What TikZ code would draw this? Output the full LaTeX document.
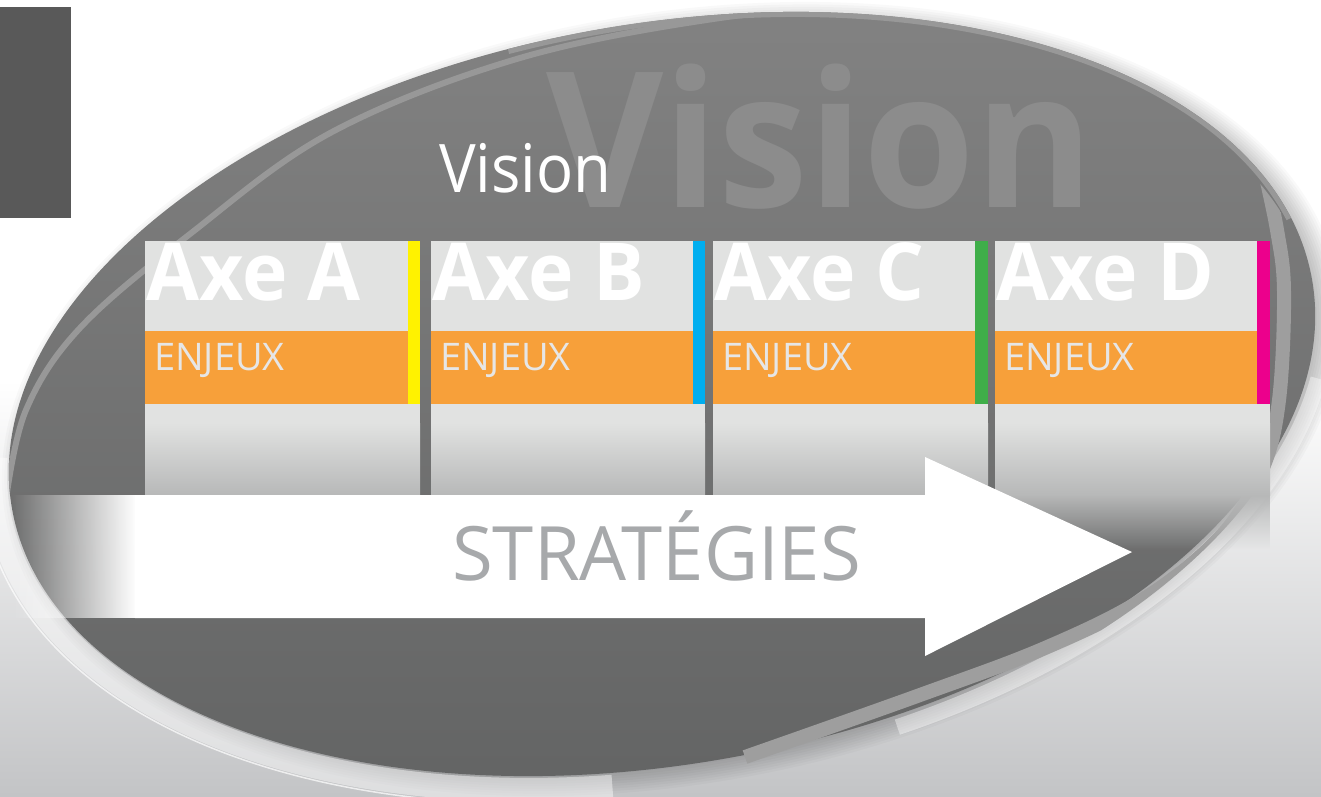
\documentclass[tikz,border=0pt]{standalone}
\usepackage{fontspec}
\setmainfont{Open Sans}
\usetikzlibrary{fadings}
\tikzfading[name=fadein, left color=transparent!100, right color=transparent!0]
\tikzfading[name=fadeout, top color=transparent!0, bottom color=transparent!100]
\definecolor{bgbot}{HTML}{C3C4C6}
\definecolor{ellTop}{HTML}{818181}
\definecolor{ellMid}{HTML}{7B7B7B}
\definecolor{ellBot}{HTML}{626363}
\definecolor{rimlight}{HTML}{989898}
\definecolor{rimband}{HTML}{9E9E9E}
\definecolor{darkbox}{HTML}{595959}
\definecolor{wmgray}{HTML}{8C8C8C}
\definecolor{panelgray}{HTML}{E1E2E1}
\definecolor{panellow}{HTML}{B7B8B8}
\definecolor{enjorange}{HTML}{F7A03A}
\definecolor{enjtext}{HTML}{E6E6E6}
\definecolor{stratgray}{HTML}{A7A9AB}
\definecolor{barA}{HTML}{FFF200}
\definecolor{barB}{HTML}{00AEEF}
\definecolor{barC}{HTML}{3FAE49}
\definecolor{barD}{HTML}{EC008C}
\tikzset{
  ellframe/.style={shift={(662,394)}, rotate=10},
  axetext/.style={anchor=base west, inner sep=0, text=white, xscale=0.96, font=\bfseries\fontsize{80}{80}\selectfont},
  enjtextstyle/.style={anchor=base west, inner sep=0, text=enjtext, font=\fontsize{38}{38}\selectfont},
}
\begin{document}
\begin{tikzpicture}[x=1pt,y=-1pt]
\useasboundingbox (0,0) rectangle (1321,796);
% background
\fill[white] (0,0) rectangle (1321,796);
\shade[top color=white, bottom color=bgbot] (0,380) rectangle (1321,796);
% soft shadow
\begin{scope}[shift={(672,399)}, rotate=10]
  \foreach \k in {0,...,10}
    \fill[black, opacity=0.025] (0,0) ellipse [x radius={652+2.5*\k}, y radius={360+2.5*\k}];
\end{scope}
% outer glossy bands
\begin{scope}[ellframe]
  \draw[white, opacity=0.45, line width=24] (188:674 and 384) arc[start angle=188, end angle=100, x radius=674, y radius=384];
  \draw[white, opacity=0.7, line width=1.5] (186:688 and 398) arc[start angle=186, end angle=98, x radius=688, y radius=398];
  \draw[white, opacity=0.4, line width=16] (15:672 and 382) arc[start angle=15, end angle=75, x radius=672, y radius=382];
\end{scope}
% main ellipse
\shade[ellframe, top color=ellTop, middle color=ellMid, bottom color=ellBot] (0,0) ellipse [x radius=660, y radius=370];
% rim lines
\begin{scope}
  \clip[ellframe] (0,0) ellipse [x radius=660, y radius=370];
  \draw[rimlight, line width=6, line cap=round] plot[smooth, tension=0.6] coordinates {(6,500) (26,410) (80,328) (190,234) (332,132) (520,58) (720,18) (860,8)};
  \draw[ellframe, rimlight, line width=10] (262:660 and 370) arc[start angle=262, end angle=350, x radius=660, y radius=370];
\end{scope}
\begin{scope}
  \clip[shift={(662,406)}, rotate=10] (0,0) ellipse [x radius=660, y radius=370];
  \draw[rimband, line width=14] plot[smooth, tension=0.6] coordinates {(1262,160) (1277,230) (1284,292) (1279,400) (1262,470) (1222,535) (1145,598) (1045,648) (920,695) (745,757)};
\end{scope}
% dark box
\fill[darkbox] (0,7) rectangle (71,218);
% titles
\node[anchor=base west, inner sep=0, text=wmgray, xscale=0.955, font=\bfseries\fontsize{189}{189}\selectfont] (wm) at (546,207) {Vision};
\node[anchor=base west, inner sep=0, text=white, font=\fontsize{67}{67}\selectfont, xscale=0.92] (vis) at (439,192) {Vision};
% panels
\foreach \x/\b/\r/\c/\n in {145/408/420/barA/A, 431/693/705/barB/B, 713/975/988/barC/C, 995/1257/1270/barD/D}{
  \fill[panelgray] (\x,241) rectangle (\r,495);
  \shade[top color=panelgray, bottom color=panellow] (\x,423) rectangle (\r,495);
  \fill[enjorange] (\x,331) rectangle (\b,404);
  \fill[\c] (\b,241) rectangle (\r,404);
  \node[axetext] (axe\n) at (\x+1,300) {Axe \n};
  \node[enjtextstyle] (enj\n) at (\x+9,370) {ENJEUX};
}
\fill[panellow, path fading=fadeout] (995,495) rectangle (1270,550);
% arrow
\fill[white] (135,495) -- (925,495) -- (925,457) -- (1132,552) -- (925,656) -- (925,618) -- (135,618) -- cycle;
\fill[white, path fading=fadein] (12,495) rectangle (136,618);
\node[anchor=base west, inner sep=0, text=stratgray, font=\fontsize{75}{75}\selectfont, xscale=0.99] (strat) at (452,580) {STRATÉGIES};
\end{tikzpicture}
\end{document}
